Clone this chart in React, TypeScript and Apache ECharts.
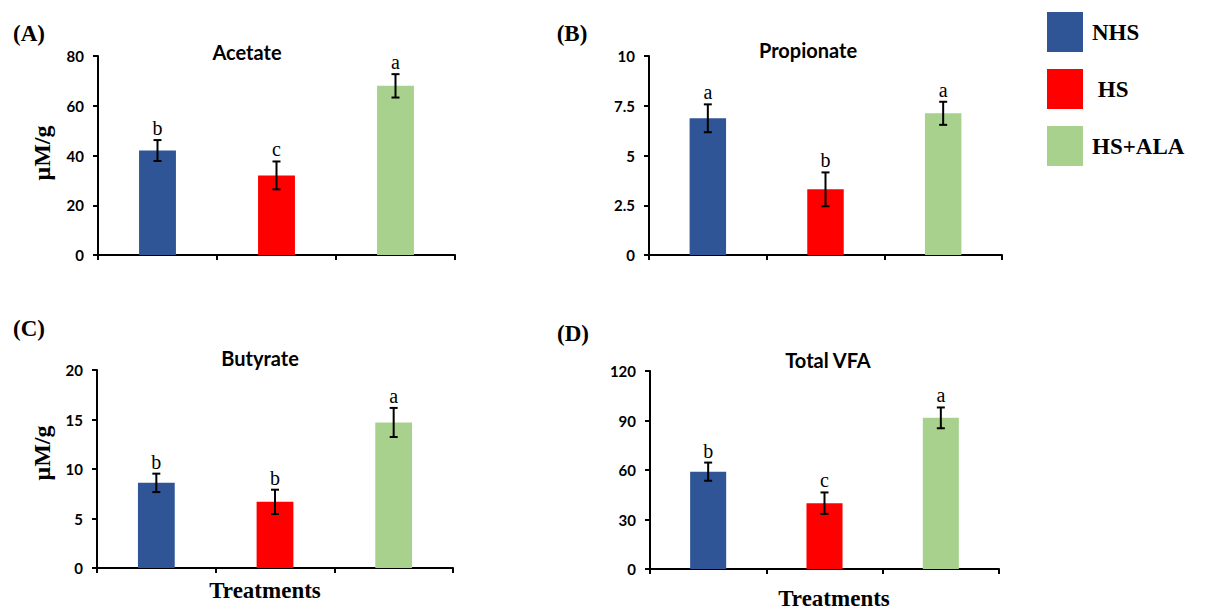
import React, { useEffect, useRef } from 'react';
import * as echarts from 'echarts';

const groups = ['NHS', 'HS', 'HS+ALA'];
const groupColors = ['#2F5597', '#FF0000', '#A9D18E'];

const panelIds = ['(A)', '(B)', '(C)', '(D)'];
const panelTitles = ['Acetate', 'Propionate', 'Butyrate', 'Total VFA'];

const acetateMean = [42, 32, 68];
const acetateErr = [4.2, 5.6, 4.7];
const acetateLetters = ['b', 'c', 'a'];

const propionateMean = [6.87, 3.3, 7.12];
const propionateErr = [0.7, 0.85, 0.58];
const propionateLetters = ['a', 'b', 'a'];

const butyrateMean = [8.6, 6.68, 14.7];
const butyrateErr = [0.93, 1.23, 1.47];
const butyrateLetters = ['b', 'b', 'a'];

const totalMean = [59, 39.9, 91.6];
const totalErr = [5.5, 6.5, 6.3];
const totalLetters = ['b', 'c', 'a'];

const yMax = [80, 10, 20, 120];
const yStep = [20, 2.5, 5, 30];
const yUnit = 'μM/g';
const xName = 'Treatments';

const means = [acetateMean, propionateMean, butyrateMean, totalMean];
const errs = [acetateErr, propionateErr, butyrateErr, totalErr];
const letters = [acetateLetters, propionateLetters, butyrateLetters, totalLetters];

const grids = [
  { left: 98, top: 56, width: 357, height: 199 },
  { left: 649, top: 56, width: 353, height: 199 },
  { left: 97, top: 370, width: 356, height: 198 },
  { left: 650, top: 371, width: 349, height: 198 },
];

const SERIF = '"Liberation Serif", "Times New Roman", serif';
const SANS = 'Lato, "Open Sans", sans-serif';

export default function App() {
  const ref = useRef<HTMLDivElement>(null);

  useEffect(() => {
    if (!ref.current) return;
    const chart = echarts.init(ref.current, undefined, { renderer: 'svg' });

    const axisLineStyle = { color: '#000', width: 2 };
    const xAxis: any[] = [];
    const yAxis: any[] = [];
    const series: any[] = [];

    for (let p = 0; p < 4; p++) {
      xAxis.push({
        type: 'category',
        gridIndex: p,
        data: groups,
        axisLine: { show: true, lineStyle: axisLineStyle },
        axisTick: { show: true, length: 5, lineStyle: axisLineStyle },
        axisLabel: { show: false },
        splitLine: { show: false },
      });
      yAxis.push({
        type: 'value',
        gridIndex: p,
        min: 0,
        max: yMax[p],
        interval: yStep[p],
        axisLine: { show: true, lineStyle: axisLineStyle },
        axisTick: { show: true, length: 5, lineStyle: axisLineStyle },
        splitLine: { show: false },
        axisLabel: {
          color: '#000',
          fontFamily: SANS,
          fontWeight: 'bold',
          fontSize: 15,
          margin: 14,
        },
      });
      for (let g = 0; g < 3; g++) {
        series.push({
          type: 'bar',
          name: groups[g],
          xAxisIndex: p,
          yAxisIndex: p,
          barWidth: '31%',
          barGap: '-100%',
          itemStyle: { color: groupColors[g] },
          data: means[p].map((v, i) => (i === g ? v : null)),
        });
      }
      const lt = letters[p];
      series.push({
        type: 'custom',
        name: 'err' + p,
        xAxisIndex: p,
        yAxisIndex: p,
        z: 10,
        encode: { x: 0, y: [1, 2] },
        data: means[p].map((m, i) => [i, m - errs[p][i], m + errs[p][i]]),
        renderItem: (params: any, api: any) => {
          const top = api.coord([api.value(0), api.value(2)]);
          const lo = api.coord([api.value(0), api.value(1)]);
          const cx = top[0];
          const cap = 4;
          const st = { stroke: '#000', lineWidth: 2 };
          return {
            type: 'group',
            children: [
              { type: 'line', shape: { x1: cx, y1: top[1], x2: cx, y2: lo[1] }, style: st },
              { type: 'line', shape: { x1: cx - cap, y1: top[1], x2: cx + cap, y2: top[1] }, style: st },
              { type: 'line', shape: { x1: cx - cap, y1: lo[1], x2: cx + cap, y2: lo[1] }, style: st },
              {
                type: 'text',
                x: cx,
                y: top[1] - 12,
                style: {
                  text: lt[params.dataIndex],
                  font: `20px ${SERIF}`,
                  fill: '#000',
                  align: 'center',
                  verticalAlign: 'middle',
                },
              },
            ],
          };
        },
      });
    }

    const txt = (text: string, x: number, y: number, font: string, rotation = 0) => ({
      type: 'text',
      x,
      y,
      rotation,
      style: { text, font, fill: '#000', align: 'center', verticalAlign: 'middle' },
    });

    const labelPos = [
      [29, 33],
      [572, 33],
      [29, 328],
      [573, 333],
    ];
    const titlePos = [
      [247, 52],
      [808, 50],
      [260, 358],
      [828, 360],
    ];

    const graphic: any[] = [];
    for (let p = 0; p < 4; p++) {
      graphic.push(txt(panelIds[p], labelPos[p][0], labelPos[p][1], `bold 23px ${SERIF}`));
      graphic.push(txt(panelTitles[p], titlePos[p][0], titlePos[p][1], `bold 20px ${SANS}`));
    }
    graphic.push(txt(yUnit, 42, 153, `bold 24px ${SERIF}`, Math.PI / 2));
    graphic.push(txt(yUnit, 42, 453, `bold 24px ${SERIF}`, Math.PI / 2));
    graphic.push(txt(xName, 265, 590, `bold 23px ${SERIF}`));
    graphic.push(txt(xName, 834, 598, `bold 23px ${SERIF}`));

    chart.setOption({
      animation: false,
      backgroundColor: '#fff',
      grid: grids,
      xAxis,
      yAxis,
      series,
      graphic,
      legend: {
        data: groups,
        orient: 'vertical',
        left: 1047,
        top: 12,
        padding: 0,
        itemWidth: 36,
        itemHeight: 40,
        itemGap: 17,
        icon: 'rect',
        selectedMode: false,
        formatter: (n: string) => (n === 'HS' ? ' HS' : n),
        textStyle: {
          fontFamily: SERIF,
          fontWeight: 'bold',
          fontSize: 23,
          color: '#000',
          padding: [0, 0, 0, 4],
        },
      },
    });

    return () => chart.dispose();
  }, []);

  return (
    <div
      ref={ref}
      style={{ position: 'absolute', left: 0, top: 0, width: 1206, height: 610 }}
    />
  );
}
